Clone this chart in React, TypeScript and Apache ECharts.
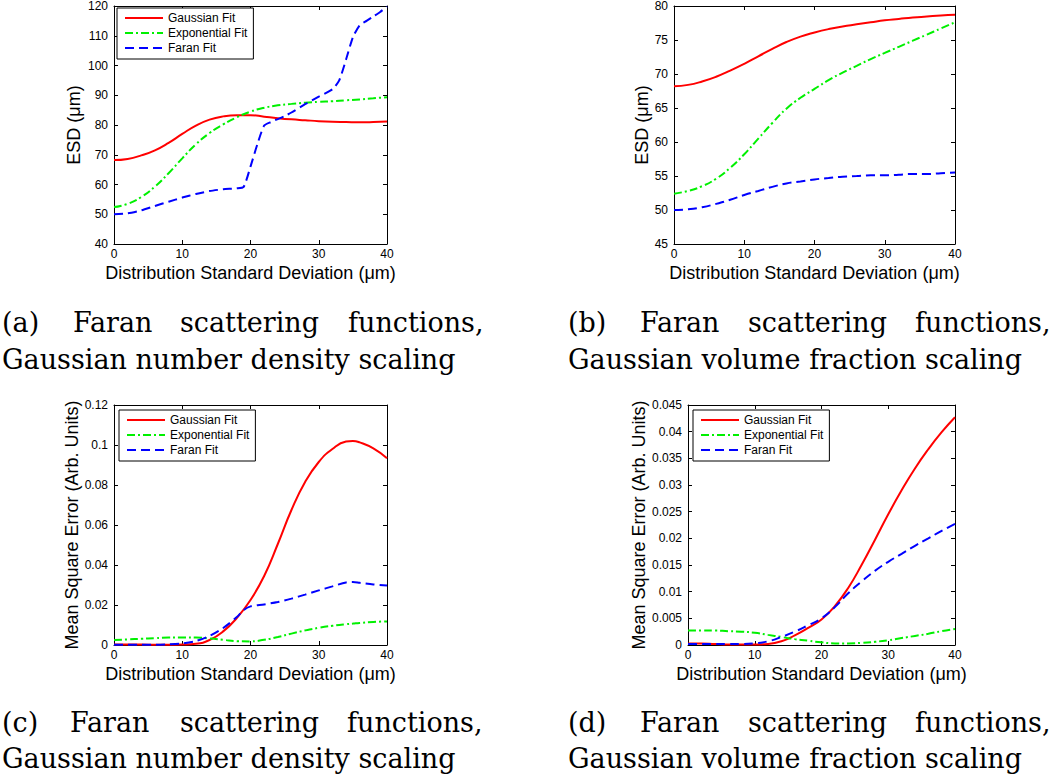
import React, { useEffect, useRef } from "react";
import * as echarts from "echarts";

const SERIES_NAMES = ["Gaussian Fit", "Exponential Fit", "Faran Fit"];
const X_TITLE = "Distribution Standard Deviation (μm)";
const ESD_TITLE = "ESD (μm)";
const MSE_TITLE = "Mean Square Error (Arb. Units)";

const xStd = [0, 2, 4, 6, 8, 10, 12, 14, 16, 18, 20, 22, 24, 26, 28, 30, 32, 34, 36, 38, 40];
const xPeak = [0, 2, 4, 6, 8, 10, 12, 14, 16, 18, 20, 22, 24, 26, 28, 30, 32, 34, 35, 36, 38, 40];

// (a) ESD, number density scaling
const aGauss = [68.2, 68.6, 69.8, 71.5, 74.0, 77.0, 79.8, 81.8, 82.9, 83.3, 83.3, 82.8, 82.3, 81.9, 81.6, 81.3, 81.1, 81.0, 80.9, 81.0, 81.2];
const aExp = [52.4, 53.5, 55.8, 59.3, 63.8, 68.8, 73.5, 77.3, 80.2, 82.6, 84.5, 85.8, 86.6, 87.1, 87.5, 87.8, 88.0, 88.3, 88.6, 89.0, 89.3];
const aFaranX = [0, 2, 4, 6, 8, 10, 12, 14, 16, 18, 19, 20, 21, 22, 23, 24, 25, 26, 28, 30, 32, 33, 34, 35, 36, 37, 38, 39, 40];
const aFaran = [50.0, 50.3, 51.3, 52.8, 54.2, 55.6, 56.8, 57.8, 58.4, 58.7, 59.2, 66.0, 73.5, 79.8, 81.0, 82.0, 83.0, 84.2, 87.0, 89.5, 92.0, 95.0, 102.0, 109.5, 113.5, 115.0, 116.5, 118.0, 119.8];

// (b) ESD, volume fraction scaling
const bGauss = [68.2, 68.4, 68.9, 69.6, 70.5, 71.5, 72.6, 73.7, 74.7, 75.5, 76.1, 76.6, 77.0, 77.3, 77.6, 77.9, 78.1, 78.3, 78.45, 78.6, 78.7];
const bExp = [52.4, 52.8, 53.5, 54.6, 56.2, 58.2, 60.5, 62.8, 64.9, 66.5, 67.8, 69.1, 70.2, 71.2, 72.2, 73.1, 74.0, 74.9, 75.8, 76.7, 77.6];
const bFaran = [50.0, 50.1, 50.4, 50.9, 51.5, 52.2, 52.8, 53.4, 53.9, 54.2, 54.5, 54.7, 54.9, 55.0, 55.1, 55.1, 55.2, 55.3, 55.3, 55.4, 55.5];

// (c) MSE, number density scaling
const cGauss = [0.0002, 0.0002, 0.0002, 0.0001, 0.0001, 0.0002, 0.0006, 0.0025, 0.0068, 0.0135, 0.0225, 0.0345, 0.0505, 0.0675, 0.0815, 0.0915, 0.098, 0.1017, 0.102, 0.1013, 0.0983, 0.0934];
const cExp = [0.0025, 0.0028, 0.0031, 0.0034, 0.0037, 0.0038, 0.0037, 0.0033, 0.0026, 0.0019, 0.0018, 0.0026, 0.004, 0.0057, 0.0073, 0.0086, 0.0096, 0.0104, 0.0107, 0.011, 0.0115, 0.0118];
const cFaranX = [0, 2, 4, 6, 8, 10, 12, 14, 16, 18, 19, 20, 22, 24, 26, 28, 30, 32, 34, 35, 36, 38, 40];
const cFaran = [0.0001, 0.0001, 0.0001, 0.0001, 0.0003, 0.0008, 0.002, 0.0045, 0.0085, 0.014, 0.0175, 0.0193, 0.0203, 0.0215, 0.0232, 0.0252, 0.0273, 0.0293, 0.0313, 0.0315, 0.0311, 0.0303, 0.0297];

// (d) MSE, volume fraction scaling
const dGauss = [0.0003, 0.0003, 0.0002, 0.0001, 0.0001, 0.0001, 0.0002, 0.0007, 0.0018, 0.0032, 0.0048, 0.0073, 0.0107, 0.015, 0.0197, 0.0245, 0.029, 0.0331, 0.0367, 0.0399, 0.0427];
const dExp = [0.0027, 0.0027, 0.0027, 0.0026, 0.0025, 0.0023, 0.0019, 0.0015, 0.0011, 0.0008, 0.0005, 0.0003, 0.0003, 0.0004, 0.0006, 0.0009, 0.0013, 0.0017, 0.0021, 0.0026, 0.003];
const dFaran = [0.0002, 0.0002, 0.0002, 0.0002, 0.0002, 0.0003, 0.0007, 0.0015, 0.0025, 0.0037, 0.005, 0.0071, 0.0097, 0.0119, 0.0139, 0.0156, 0.0171, 0.0186, 0.02, 0.0214, 0.0227];

const CAPTION_LINE1 = ["Faran", "scattering", "functions,"];
const CAPTION_LINE2_NUMBER = "Gaussian number density scaling";
const CAPTION_LINE2_VOLUME = "Gaussian volume fraction scaling";

const SANS = "Liberation Sans, Arial, sans-serif";
const SERIF = "DejaVu Serif, serif";
const COLORS = ["#ff0000", "#00f000", "#0000ff"];
const DASHES: any[] = ["solid", [8, 3, 2, 3], [9, 5]];

const zip = (xs: number[], ys: number[]) => xs.map((x, i) => [x, ys[i]]);

function axesFor(g: number, ymin: number, ymax: number, yint: number, yName: string, yGap: number) {
  const line = { show: true, onZero: false, lineStyle: { color: "#000", width: 1 } };
  const tick = { show: true, inside: true, length: 4, lineStyle: { color: "#000", width: 1 } };
  const label = { color: "#000", fontSize: 12, fontFamily: SANS };
  const nameStyle = { fontSize: 18, fontFamily: SANS, color: "#000" };
  const xBase = { type: "value", gridIndex: g, min: 0, max: 40, interval: 10, axisLine: line, axisTick: tick, splitLine: { show: false } };
  const yBase = { type: "value", gridIndex: g, min: ymin, max: ymax, interval: yint, axisLine: line, axisTick: tick, splitLine: { show: false } };
  return {
    x: [
      { ...xBase, position: "bottom", axisLabel: { ...label, margin: 4 }, name: X_TITLE, nameLocation: "middle", nameGap: 20, nameTextStyle: nameStyle },
      { ...xBase, position: "top", axisLabel: { show: false } },
    ],
    y: [
      { ...yBase, position: "left", axisLabel: { ...label, margin: 6 }, name: yName, nameLocation: "middle", nameGap: yGap, nameTextStyle: nameStyle },
      { ...yBase, position: "right", axisLabel: { show: false } },
    ],
  };
}

function seriesFor(g: number, data: number[][][], smooth: number[] = [0.5, 0.5, 0.5]) {
  return data.map((d, i) => ({
    type: "line",
    name: SERIES_NAMES[i],
    xAxisIndex: 2 * g,
    yAxisIndex: 2 * g,
    data: d,
    symbol: "none",
    showSymbol: false,
    smooth: smooth[i],
    lineStyle: { color: COLORS[i], width: 2, type: DASHES[i] },
    itemStyle: { color: COLORS[i] },
  }));
}

function legendAt(left: number, top: number) {
  return {
    orient: "vertical",
    left,
    top,
    data: SERIES_NAMES,
    itemWidth: 38,
    itemHeight: 12,
    itemGap: 3,
    padding: [4, 6, 5, 7],
    borderColor: "#000",
    borderWidth: 1,
    backgroundColor: "#fff",
    selectedMode: false,
    itemStyle: { opacity: 0, borderWidth: 0 },
    textStyle: { fontSize: 12, fontFamily: SANS, color: "#000" },
  };
}

function caption(letter: string, x0: number, wordX: number[], line2: string, base1: number, base2: number) {
  const style = { fontSize: 27, fontFamily: SERIF, fill: "#000", verticalAlign: "middle", align: "left" };
  const words = [`(${letter})`, ...CAPTION_LINE1];
  const xs = [x0, ...wordX];
  const items: any[] = words.map((w, i) => ({ type: "text", x: xs[i], y: base1 - 9, style: { ...style, text: w } }));
  items.push({ type: "text", x: x0, y: base2 - 9, style: { ...style, text: line2 } });
  return items;
}

export default function App() {
  const ref = useRef<HTMLDivElement>(null);
  useEffect(() => {
    if (!ref.current) return;
    const chart = echarts.init(ref.current, null, { renderer: "svg" });
    const A = axesFor(0, 40, 120, 10, ESD_TITLE, 31);
    const B = axesFor(1, 45, 80, 5, ESD_TITLE, 23);
    const C = axesFor(2, 0, 0.12, 0.02, MSE_TITLE, 33);
    const D = axesFor(3, 0, 0.045, 0.005, MSE_TITLE, 39);
    const option: any = {
      animation: false,
      backgroundColor: "#fff",
      grid: [
        { left: 114, top: 4, width: 273, height: 240 },
        { left: 674, top: 4, width: 281, height: 240 },
        { left: 114, top: 405, width: 273, height: 240 },
        { left: 688, top: 405, width: 267, height: 240 },
      ],
      xAxis: [...A.x, ...B.x, ...C.x, ...D.x],
      yAxis: [...A.y, ...B.y, ...C.y, ...D.y],
      legend: [legendAt(117, 8), legendAt(119, 410), legendAt(693, 410)],
      series: [
        ...seriesFor(0, [zip(xStd, aGauss), zip(xStd, aExp), zip(aFaranX, aFaran)], [0.5, 0.5, 0.2]),
        ...seriesFor(1, [zip(xStd, bGauss), zip(xStd, bExp), zip(xStd, bFaran)]),
        ...seriesFor(2, [zip(xPeak, cGauss), zip(xPeak, cExp), zip(cFaranX, cFaran)], [0.5, 0.5, 0.3]),
        ...seriesFor(3, [zip(xStd, dGauss), zip(xStd, dExp), zip(xStd, dFaran)]),
      ],
      graphic: [
        ...caption("a", 2, [73, 180, 348], CAPTION_LINE2_NUMBER, 331, 368),
        ...caption("b", 568, [640, 748, 915], CAPTION_LINE2_VOLUME, 331, 368),
        ...caption("c", 2, [70, 180, 347], CAPTION_LINE2_NUMBER, 731, 767),
        ...caption("d", 568, [640, 748, 915], CAPTION_LINE2_VOLUME, 731, 767),
      ],
    };
    chart.setOption(option);
    return () => chart.dispose();
  }, []);
  return <div ref={ref} style={{ position: "fixed", left: 0, top: 0, width: 1050, height: 775 }} />;
}
